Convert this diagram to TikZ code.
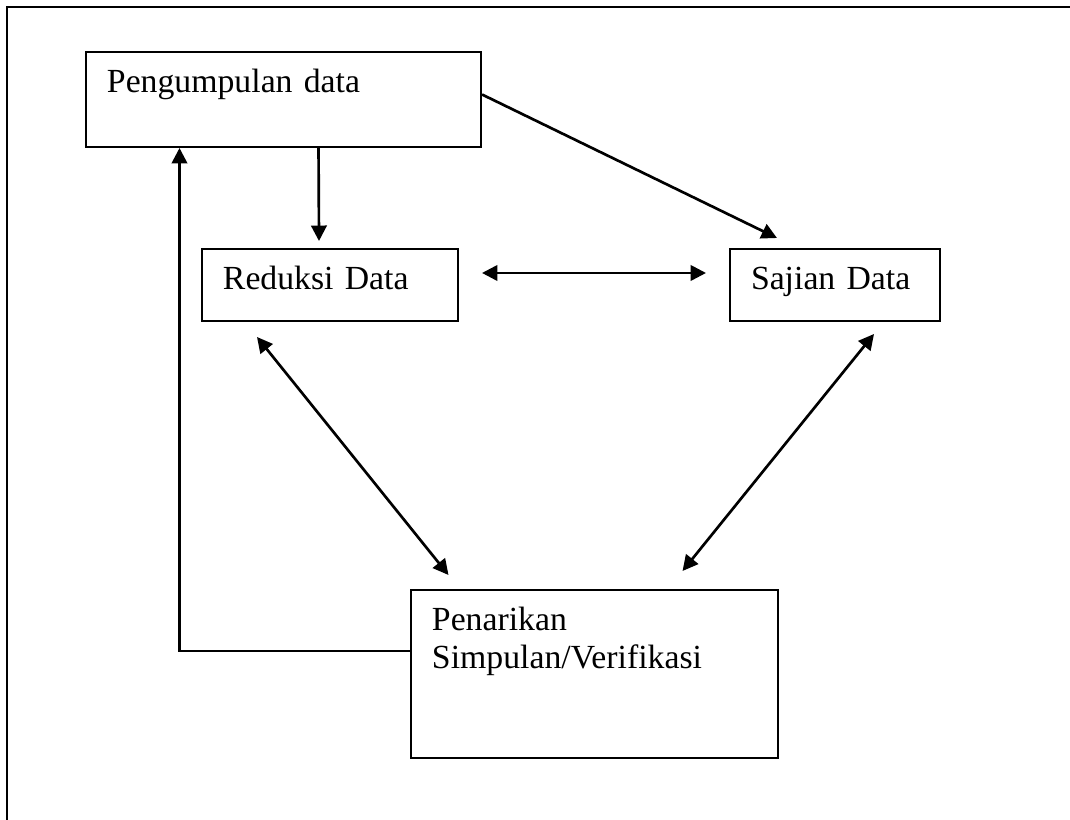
\documentclass[tikz,border=0pt]{standalone}
\usepackage{fontspec}
\setmainfont{Liberation Serif}
\usetikzlibrary{arrows.meta}
\newlength\px
\setlength\px{0.71126pt}

\begin{document}
\begin{tikzpicture}[
  x=0.025cm, y=-0.025cm,
  >={Triangle[length=11pt,width=11pt]}, font=\fontsize{24}{27}\selectfont,
  box/.style={draw,line width=1.4pt,anchor=north west,align=left,inner xsep=21\px,inner ysep=0pt,text height=41\px},
  arw/.style={->,line width=1.9pt},
  dbl/.style={<->,line width=1.9pt},
]
\useasboundingbox (0,0) rectangle (1070,820);
\draw[line width=1.5pt] (7,820) -- (7,7) -- (1070,7);

\node[box,text width=353\px,text depth=54\px] (pd) at (85,51)   {Pengumpulan data};
\node[box,text width=214\px,text depth=31\px] (rd) at (201,248) {Reduksi Data};
\node[box,text width=168\px,text depth=31\px] (sd) at (729,248) {Sajian Data};
\node[box,text width=325\px,text depth=127\px] (pk) at (410,589) {Penarikan\\Simpulan/Verifikasi};

\draw[arw] ([xshift=35\px]pd.south) -- ([xshift=-11\px,yshift=7\px]rd.north);
\draw[arw] ([yshift=5\px]pd.east) -- ([xshift=-58\px,yshift=10\px]sd.north);
\draw[dbl] ([xshift=23\px,yshift=12\px]rd.east) -- ([xshift=-23\px,yshift=12\px]sd.west);
\draw[dbl] ([xshift=-73\px,yshift=-15\px]rd.south) -- ([xshift=-146\px,yshift=14\px]pk.north);
\draw[dbl] ([xshift=39\px,yshift=-12\px]sd.south) -- ([xshift=88\px,yshift=18\px]pk.north);
\draw[arw] ([yshift=23\px]pk.west) -| ([xshift=-104\px]pd.south);
\end{tikzpicture}
\end{document}
